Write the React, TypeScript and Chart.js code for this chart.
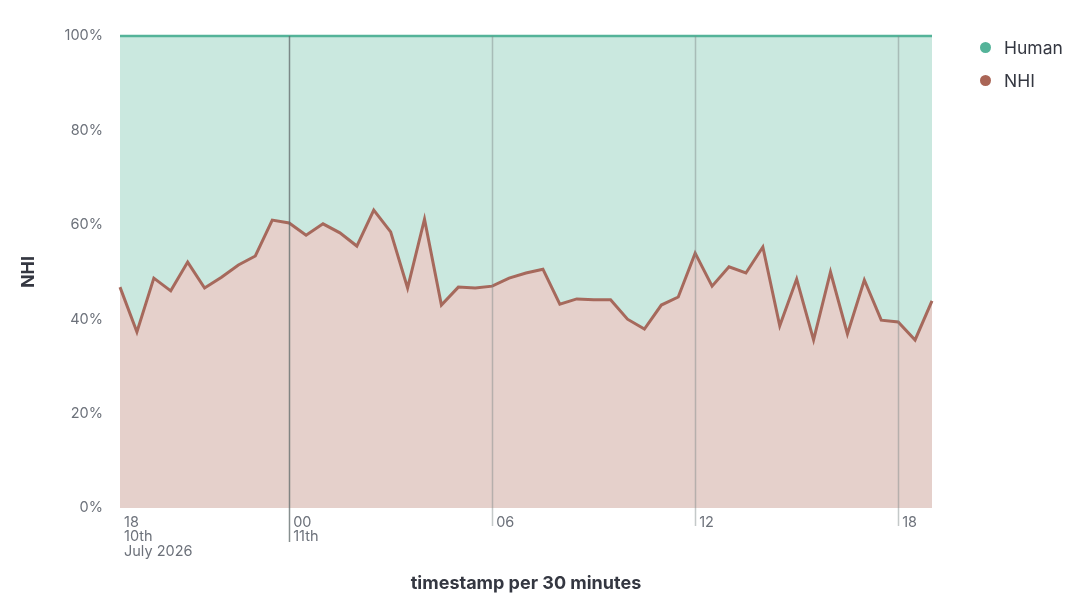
import React, { useEffect, useRef } from "react";
import { Chart, registerables } from "chart.js";

Chart.register(...registerables);

// Half-hour slots starting 10 July 2026 19:00 (slot 0) to 11 July 2026 19:00 (slot 48)
const slotIndex: number[] = Array.from({ length: 49 }, (_, i) => i);

// NHI share (%) per 30-minute bucket
const nhiValues: number[] = [
  46.8, 37.3, 48.7, 46.0, 52.1, 46.6, 48.9, 51.5, 53.4, 61.0,
  60.4, 57.8, 60.2, 58.3, 55.5, 63.1, 58.5, 46.6, 61.2, 43.0,
  46.8, 46.6, 47.0, 48.7, 49.8, 50.6, 43.2, 44.3, 44.1, 44.1,
  40.0, 37.9, 43.0, 44.7, 54.0, 47.0, 51.1, 49.8, 55.3, 38.6,
  48.5, 35.6, 50.0, 36.9, 48.3, 39.8, 39.4, 35.6, 43.9,
];

// Human share is the complement of NHI
const humanValues: number[] = nhiValues.map((v) => 100 - v);

const xTickPositions: number[] = [0, 10, 22, 34, 46];
const xTickLabels: string[][] = [["18", "10th", "July 2026"], ["00", "11th"], ["06"], ["12"], ["18"]];
const yTickValues: number[] = [0, 20, 40, 60, 80, 100];

const seriesNames = ["Human", "NHI"];
const seriesColors = ["#54b399", "#aa6556"];

const FONT = "Inter, 'Noto Sans', sans-serif";

export default function App() {
  const canvasRef = useRef<HTMLCanvasElement | null>(null);

  useEffect(() => {
    if (!canvasRef.current) return;

    const verticalLines = {
      id: "verticalLines",
      afterDatasetsDraw(chart: any) {
        const { ctx, chartArea } = chart;
        const xs = chart.scales.x;
        ctx.save();
        xTickPositions.forEach((v, i) => {
          if (i === 0) return;
          const px = Math.round(xs.getPixelForValue(v)) + 0.5;
          ctx.beginPath();
          ctx.lineWidth = 1.5;
          ctx.strokeStyle = i === 1 ? "rgba(95,105,105,0.75)" : "rgba(125,135,135,0.45)";
          ctx.moveTo(px, chartArea.top);
          ctx.lineTo(px, chartArea.bottom + (i === 1 ? 34 : 18));
          ctx.stroke();
        });
        ctx.restore();
      },
    };

    const chart = new Chart(canvasRef.current, {
      type: "line",
      data: {
        datasets: [
          {
            label: seriesNames[1],
            data: slotIndex.map((x, i) => ({ x, y: nhiValues[i] })),
            borderColor: "#a6695c",
            backgroundColor: "rgb(229,208,203)",
            borderWidth: 3,
            fill: "origin",
            pointRadius: 0,
            tension: 0,
            order: 1,
            clip: false,
          },
          {
            label: seriesNames[0],
            data: slotIndex.map((x, i) => ({ x, y: humanValues[i] })),
            borderColor: seriesColors[0],
            backgroundColor: "rgb(202,232,223)",
            borderWidth: 2.5,
            fill: "-1",
            pointRadius: 0,
            tension: 0,
            order: 2,
            clip: false,
          },
        ],
      },
      options: {
        animation: false,
        responsive: true,
        maintainAspectRatio: false,
        layout: { padding: { left: 0, right: 158, top: 36, bottom: 0 } },
        plugins: {
          legend: { display: false },
          tooltip: { enabled: false },
        },
        scales: {
          x: {
            type: "linear",
            min: 0,
            max: 48,
            afterBuildTicks: (s: any) => {
              s.ticks = xTickPositions.map((v) => ({ value: v }));
            },
            afterFit: (s: any) => {
              s.height = 105;
            },
            grid: { display: false, drawTicks: false },
            border: { display: false },
            ticks: {
              align: "start",
              labelOffset: 4,
              padding: 7,
              color: "#6c717a",
              font: { family: FONT, size: 14.5, lineHeight: 1.0 },
              maxRotation: 0,
              autoSkip: false,
              callback: (value: any) => {
                const idx = xTickPositions.indexOf(Number(value));
                return idx >= 0 ? xTickLabels[idx] : "";
              },
            },
            title: {
              display: true,
              text: "timestamp per 30 minutes",
              color: "#343741",
              font: { family: FONT, size: 18, weight: "bold", lineHeight: 1.2 },
              padding: { top: 0, bottom: 19 },
            },
          },
          y: {
            stacked: true,
            min: 0,
            max: 100,
            z: 1,
            afterBuildTicks: (s: any) => {
              s.ticks = yTickValues.map((v) => ({ value: v }));
            },
            afterFit: (s: any) => {
              s.width = 120;
            },
            grid: {
              drawTicks: false,
              color: (c: any) =>
                c.tick && (c.tick.value === 0 || c.tick.value === 100)
                  ? "rgba(0,0,0,0)"
                  : "rgba(140,140,140,0.14)",
              lineWidth: 1,
            },
            border: { display: false, dash: [5, 5] },
            ticks: {
              padding: 17,
              color: "#6c717a",
              font: { family: FONT, size: 14.5 },
              callback: (v: any) => `${v}%`,
            },
            title: {
              display: true,
              text: "NHI",
              color: "#343741",
              font: { family: FONT, size: 18, weight: "bold", lineHeight: 1.2 },
              padding: { top: 17.5, bottom: 0 },
            },
          },
        },
      },
      plugins: [verticalLines],
    });

    return () => chart.destroy();
  }, []);

  return (
    <div
      style={{
        position: "fixed",
        left: 0,
        top: 0,
        width: 1090,
        height: 613,
        background: "#ffffff",
        fontFamily: FONT,
      }}
    >
      <canvas ref={canvasRef} />
      <div style={{ position: "absolute", left: 980, top: 36 }}>
        {seriesNames.map((name, i) => (
          <div
            key={name}
            style={{ display: "flex", alignItems: "center", height: 22, marginBottom: i === 0 ? 11 : 0 }}
          >
            <span
              style={{
                display: "inline-block",
                width: 11,
                height: 11,
                borderRadius: "50%",
                background: seriesColors[i],
                marginRight: 13,
              }}
            />
            <span style={{ fontSize: 17.5, color: "#343741" }}>{name}</span>
          </div>
        ))}
      </div>
    </div>
  );
}
